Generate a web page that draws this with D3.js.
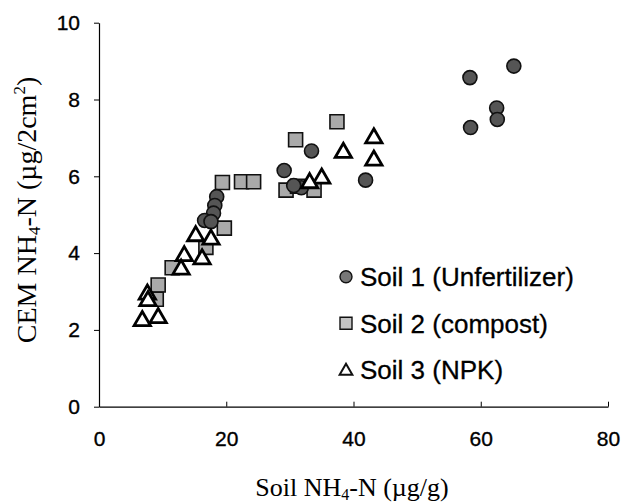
<!DOCTYPE html>
<html>
<head>
<meta charset="utf-8">
<script src="https://cdn.jsdelivr.net/npm/d3@7"></script>
<style>
  html, body { margin: 0; padding: 0; background: #fff; }
  svg { display: block; }
</style>
</head>
<body>
<svg id="chart" width="621" height="502"></svg>
<script>
// ---- data ----
const xTicks = [0, 20, 40, 60, 80];
const yTicks = [0, 2, 4, 6, 8, 10];

const seriesNames = ["Soil 1 (Unfertilizer)", "Soil 2 (compost)", "Soil 3 (NPK)"];

const soil1X = [58.3, 65.2, 58.4, 62.5, 62.6, 33.4, 29.1, 41.9, 31.8, 30.6, 18.5, 18.2, 18.0, 16.6, 17.6];
const soil1Y = [8.57, 8.87, 7.27, 7.78, 7.48, 6.66, 6.15, 5.90, 5.70, 5.76, 5.47, 5.24, 5.04, 4.85, 4.82];

const soil2X = [37.4, 30.9, 29.4, 31.2, 33.8, 19.4, 22.4, 24.3, 19.7, 16.8, 11.5, 9.3, 9.0];
const soil2Y = [7.42, 6.95, 5.64, 5.74, 5.64, 5.84, 5.86, 5.86, 4.65, 4.15, 3.62, 3.17, 2.80];

const soil3X = [43.2, 38.4, 43.2, 35.0, 33.1, 15.2, 17.6, 13.4, 16.2, 12.9, 7.6, 7.7, 6.8, 9.3];
const soil3Y = [7.02, 6.64, 6.44, 5.97, 5.85, 4.47, 4.38, 3.95, 3.87, 3.60, 2.95, 2.78, 2.26, 2.34];

// ---- chart ----
const svg = d3.select("#chart");
const x = d3.scaleLinear().domain([0, 80]).range([99, 608]);
const y = d3.scaleLinear().domain([0, 10]).range([406.7, 22.7]);

const tickFont = "'Liberation Sans', Arial, sans-serif";
const serif = "'Liberation Serif', 'Times New Roman', serif";

// y axis
const yAxis = svg.append("g")
  .attr("transform", `translate(${x(0)},0)`)
  .call(d3.axisLeft(y).tickValues(yTicks).tickSizeInner(5).tickSizeOuter(0).tickPadding(14).tickFormat(d3.format("d")));
yAxis.selectAll("text").attr("font-family", tickFont).attr("font-size", 21)
  .attr("fill", "#000").attr("stroke", "#000").attr("stroke-width", 0.35);
yAxis.selectAll("line").attr("stroke", "#000");
yAxis.select(".domain").attr("stroke", "#000").attr("stroke-width", 1.2);

// x axis
const xAxis = svg.append("g")
  .attr("transform", `translate(0,${y(0)})`)
  .call(d3.axisBottom(x).tickValues(xTicks).tickSizeInner(-5).tickSizeOuter(0).tickPadding(24).tickFormat(d3.format("d")));
xAxis.selectAll("text").attr("font-family", tickFont).attr("font-size", 21)
  .attr("fill", "#000").attr("stroke", "#000").attr("stroke-width", 0.35);
xAxis.selectAll("line").attr("stroke", "#000");
xAxis.select(".domain").attr("stroke", "#000").attr("stroke-width", 1.2);
xAxis.selectAll(".tick").filter(d => d === 0).select("line").remove();

// axis titles
const xt = svg.append("text")
  .attr("x", 352).attr("y", 496)
  .attr("text-anchor", "middle")
  .attr("font-family", serif).attr("font-size", 26).attr("fill", "#000");
xt.append("tspan").text("Soil NH");
xt.append("tspan").attr("font-size", 16).attr("dy", 4).text("4");
xt.append("tspan").attr("dy", -4).text("-N (\u00B5g/g)");

const yt = svg.append("text")
  .attr("transform", "translate(36,210) rotate(-90)")
  .attr("text-anchor", "middle")
  .attr("font-family", serif).attr("font-size", 28).attr("fill", "#000");
yt.append("tspan").text("CEM NH");
yt.append("tspan").attr("font-size", 17).attr("dy", 4).text("4");
yt.append("tspan").attr("dy", -4).text("-N (\u00B5g/2cm");
yt.append("tspan").attr("font-size", 17).attr("dy", -11).text("2");
yt.append("tspan").attr("dy", 11).text(")");

// markers
const d1 = soil1X.map((v, i) => ({x: v, y: soil1Y[i]}));
const d2 = soil2X.map((v, i) => ({x: v, y: soil2Y[i]}));
const d3p = soil3X.map((v, i) => ({x: v, y: soil3Y[i]}));

const sqSym = d3.symbol().type(d3.symbolSquare).size(14 * 14);
const circSym = d3.symbol().type(d3.symbolCircle).size(Math.PI * 7 * 7);
const triSym = d3.symbol().type(d3.symbolTriangle).size(115);

svg.append("g").selectAll("path").data(d2).join("path")
  .attr("d", sqSym)
  .attr("transform", d => `translate(${x(d.x)},${y(d.y)})`)
  .attr("fill", "#aaaaaa").attr("stroke", "#111").attr("stroke-width", 1.6);

svg.append("g").selectAll("path").data(d1).join("path")
  .attr("d", circSym)
  .attr("transform", d => `translate(${x(d.x)},${y(d.y)})`)
  .attr("fill", "#555").attr("stroke", "#111").attr("stroke-width", 1.6);

svg.append("g").selectAll("path").data(d3p).join("path")
  .attr("d", triSym)
  .attr("transform", d => `translate(${x(d.x)},${y(d.y) + 1})`)
  .attr("fill", "#fff").attr("stroke", "#000").attr("stroke-width", 2.8).attr("stroke-linejoin", "miter");

// legend
const legendY = [276.7, 323.3, 370];
const legendSyms = [
  {sym: d3.symbol().type(d3.symbolCircle).size(Math.PI * 6 * 6), fill: "#777", sw: 1.4},
  {sym: d3.symbol().type(d3.symbolSquare).size(12 * 12), fill: "#c4c4c4", sw: 1.4},
  {sym: d3.symbol().type(d3.symbolTriangle).size(70), fill: "#fff", sw: 2}
];
const lg = svg.append("g");
seriesNames.forEach((name, i) => {
  lg.append("path")
    .attr("d", legendSyms[i].sym)
    .attr("transform", `translate(346,${legendY[i] + (i === 2 ? 1 : 0)})`)
    .attr("fill", legendSyms[i].fill).attr("stroke", "#111").attr("stroke-width", legendSyms[i].sw);
  lg.append("text")
    .attr("x", 360).attr("y", legendY[i])
    .attr("dy", "0.36em")
    .attr("font-family", tickFont).attr("font-size", 26).attr("fill", "#000")
    .attr("stroke", "#000").attr("stroke-width", 0.3)
    .text(name);
});
</script>
</body>
</html>
